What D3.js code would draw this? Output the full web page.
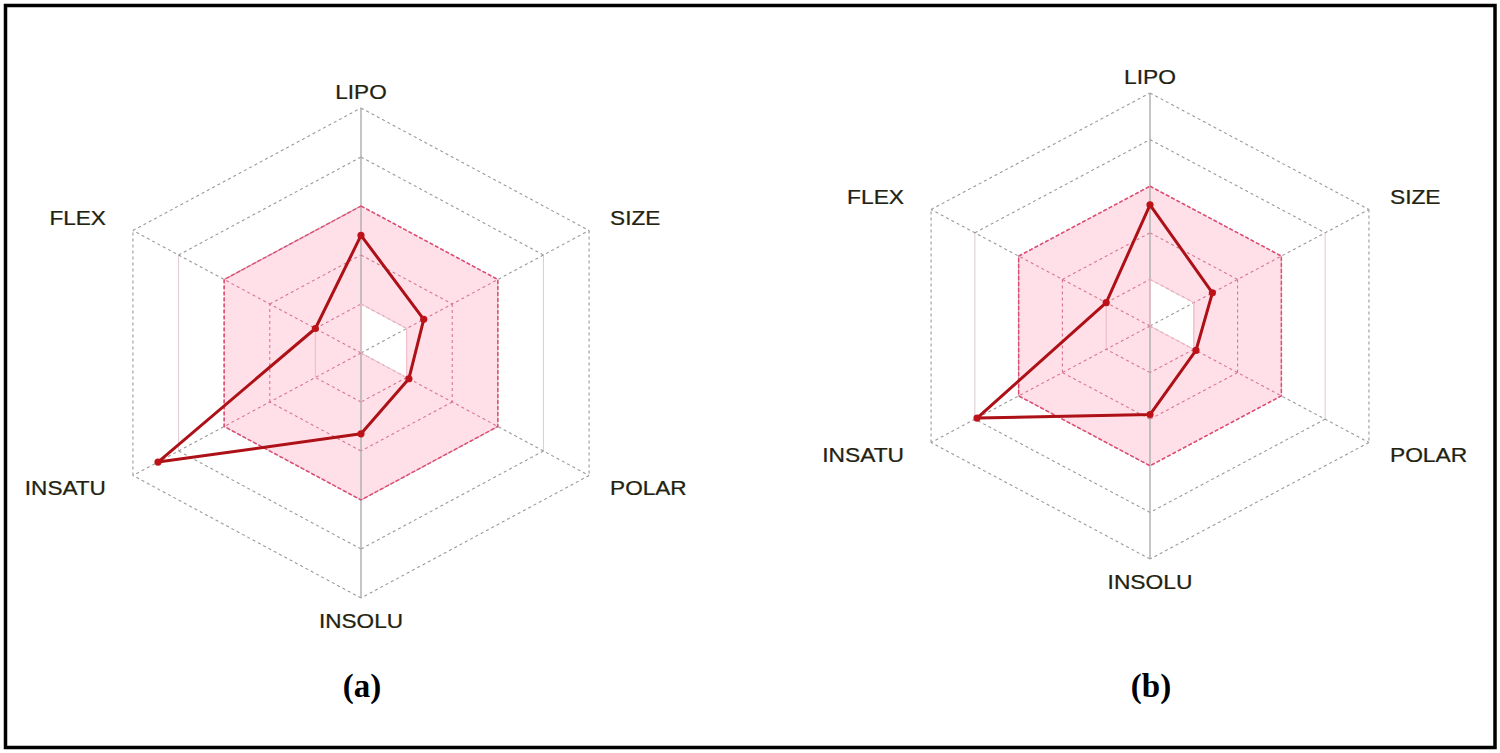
<!DOCTYPE html>
<html>
<head>
<meta charset="utf-8">
<script src="https://cdn.jsdelivr.net/npm/d3@7"></script>
<style>
  html, body { margin: 0; padding: 0; background: #fff; }
  svg { display: block; }
</style>
</head>
<body>
<svg id="chart" width="1500" height="753"></svg>
<script>
// ---------------- DATA ----------------
const axes = ["LIPO", "SIZE", "POLAR", "INSOLU", "INSATU", "FLEX"];
const valuesA = [0.48, 0.275, 0.21, 0.33, 0.89, 0.20];
const valuesB = [0.52, 0.285, 0.21, 0.38, 0.79, 0.20];
const gridLevels = [0.2, 0.4, 0.6, 0.8, 1.0];
const optimalUpper = [0.6, 0.6, 0.6, 0.6, 0.6, 0.6];
const optimalLower = [0.2, 0.2, 0.2, 0, 0, 0];
const panelLabels = ["(a)", "(b)"];
const seriesList = [valuesA, valuesB];

// ---------------- LAYOUT / STYLE ----------------
const panels = [
  { cx: 361, cy: 353, R: 245, sx: 1.075 },
  { cx: 1150, cy: 326, R: 233, sx: 1.085 }
];
const solidSideLevels = [0.2, 0.8];

const svg = d3.select("#chart");

// frame
svg.append("rect")
  .attr("x", 5.5).attr("y", 5.5)
  .attr("width", 1489.5).attr("height", 742)
  .attr("fill", "#fff").attr("stroke", "#000").attr("stroke-width", 3.5);

const angle = d3.scaleLinear().domain([0, axes.length]).range([0, 2 * Math.PI]);

panels.forEach((p, pi) => {
  const r = d3.scaleLinear().domain([0, 1]).range([0, p.R]);
  const pt = (i, v) => {
    const a = angle(i);
    return [p.cx + p.sx * r(v) * Math.sin(a), p.cy - r(v) * Math.cos(a)];
  };
  const g = svg.append("g");
  const line = d3.line();
  const ring = vals => line(vals.map((v, i) => pt(i, v))) + "Z";

  // optimal zone path (even-odd: upper minus lower)
  const zonePath = ring(optimalUpper) + ring(optimalLower);
  const clipId = "zone" + pi;
  svg.append("clipPath").attr("id", clipId)
    .append("path").attr("d", zonePath).attr("clip-rule", "evenodd");

  function drawGrid(sel, col, sideCol) {
    gridLevels.forEach(lv => {
      axes.forEach((ax, i) => {
        const j = (i + 1) % axes.length;
        const side = (i === 1 || i === 4);
        const solid = side && solidSideLevels.includes(lv);
        sel.append("path")
          .attr("d", line([pt(i, lv), pt(j, lv)]))
          .attr("fill", "none")
          .attr("stroke", solid ? sideCol : col)
          .attr("stroke-width", 1.1)
          .attr("stroke-dasharray", solid ? null : "3,3");
      });
    });
    axes.forEach((ax, i) => {
      const vertical = (i === 0 || i === 3);
      sel.append("path")
        .attr("d", line([pt(i, 0), pt(i, 1)]))
        .attr("fill", "none")
        .attr("stroke", vertical ? "#adadad" : col)
        .attr("stroke-width", vertical ? 1.4 : 1.1)
        .attr("stroke-dasharray", vertical ? null : "3,3");
    });
  }

  drawGrid(g.append("g"), "#9a9a9a", "#e3cdd2");

  // pink zone fill
  g.append("path").attr("d", zonePath)
    .attr("fill-rule", "evenodd")
    .attr("fill", "#ffe0e8");

  // pinkish grid inside zone
  drawGrid(g.append("g").attr("clip-path", `url(#${clipId})`), "#d77690", "#efbccb");

  // inner white boundary
  g.append("path").attr("d", ring(optimalLower))
    .attr("fill", "none").attr("stroke", "#f0c0cc").attr("stroke-width", 1);

  // zone outline
  g.append("path").attr("d", ring(optimalUpper))
    .attr("fill", "none").attr("stroke", "#e04c72")
    .attr("stroke-width", 1.5).attr("stroke-dasharray", "4,2");

  // data polygon
  const vals = seriesList[pi];
  g.append("path").attr("d", ring(vals))
    .attr("fill", "none").attr("stroke", "#ad1016")
    .attr("stroke-width", 3).attr("stroke-linejoin", "round");
  g.selectAll("circle.pt").data(vals).join("circle")
    .attr("class", "pt")
    .attr("cx", (v, i) => pt(i, v)[0])
    .attr("cy", (v, i) => pt(i, v)[1])
    .attr("r", 3.6).attr("fill", "#bd1218");

  // axis labels
  axes.forEach((ax, i) => {
    const [vx, vy] = pt(i, 1);
    const s = Math.sin(angle(i)), c = Math.cos(angle(i));
    let x = vx, y = vy, anchor = "middle";
    if (Math.abs(s) < 1e-6) {
      y = c > 0 ? vy - 16 : vy + 23;
    } else {
      x = s > 0 ? vx + 21 : vx - 27;
      anchor = s > 0 ? "start" : "end";
      y = c > 0 ? vy - 13 : vy + 12;
    }
    g.append("text")
      .attr("transform", `translate(${x},${y}) scale(${p.sx},1)`)
      .attr("text-anchor", anchor)
      .attr("dominant-baseline", "central")
      .attr("font-family", "Liberation Sans, Arial, sans-serif")
      .attr("font-size", 21)
      .attr("fill", "#222210")
      .attr("stroke", "#222210").attr("stroke-width", 0.25)
      .text(ax);
  });

  // panel label
  svg.append("text")
    .attr("x", p.cx + 1).attr("y", 697)
    .attr("text-anchor", "middle")
    .attr("font-family", "Liberation Serif, Times New Roman, serif")
    .attr("font-weight", "bold")
    .attr("font-size", 33)
    .attr("fill", "#000")
    .text(panelLabels[pi]);
});
</script>
</body>
</html>
